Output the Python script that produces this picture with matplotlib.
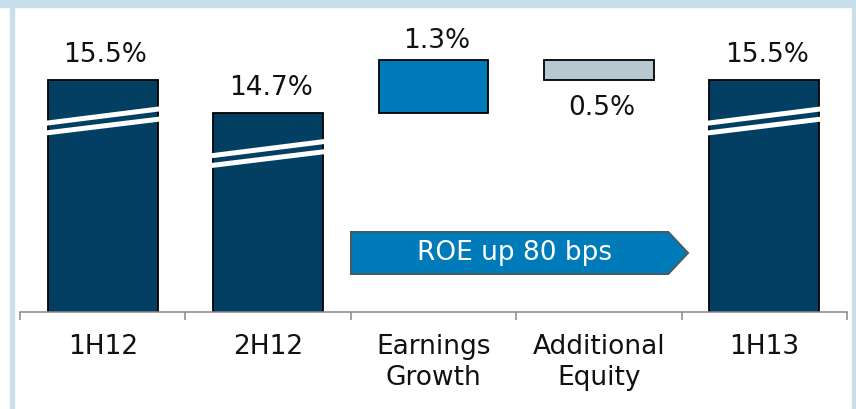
import matplotlib.pyplot as plt
from matplotlib.patches import Rectangle, Polygon

# data
categories = ['1H12', '2H12', 'Earnings\nGrowth', 'Additional\nEquity', '1H13']
roe_1h12 = 15.5
roe_2h12 = 14.7
earnings_growth = 1.3
additional_equity = -0.5
roe_1h13 = 15.5
value_labels = ['15.5%', '14.7%', '1.3%', '0.5%', '15.5%']
arrow_text = 'ROE up 80 bps'

navy = '#023f62'
blue = '#007bba'
grey = '#b8c8d0'
frame = '#c9dfeb'
fs = 19

fig = plt.figure(figsize=(8.56, 4.09), dpi=100)
ax = fig.add_axes([20 / 856, 97 / 409, 827 / 856, 293 / 409])

x = list(range(len(categories)))
w = 0.665

# totals (axis is broken, bars clipped at the bottom)
totals_x = [0, 1, 4]
totals = [roe_1h12, roe_2h12, roe_1h13]
ax.bar(totals_x, totals, width=w, color=navy, edgecolor='black', linewidth=1.3, zorder=2)

# floating bars
ax.bar(2, earnings_growth, bottom=roe_2h12, width=w, color=blue,
       edgecolor='black', linewidth=1.3, zorder=2)
ax.bar(3, additional_equity, bottom=roe_2h12 + earnings_growth, width=w, color=grey,
       edgecolor='black', linewidth=1.3, zorder=2)

# break marks on the total bars
for xi, v in zip(totals_x, totals):
    for dl, dr in [(1.06, 0.71), (1.30, 0.96)]:
        ax.plot([xi - w / 2 - 0.01, xi + w / 2 + 0.01], [v - dl, v - dr],
                color='white', linewidth=3.6, solid_capstyle='butt', zorder=3)

# value labels
ends = [roe_1h12, roe_2h12, roe_2h12 + earnings_growth,
        roe_2h12 + earnings_growth + additional_equity, roe_1h13]
offsets = [13, 13, 8.5, -25, 13]
for xi, top, lab, off in zip(x, ends, value_labels, offsets):
    ax.annotate(lab, (xi, top), xytext=(2, off), textcoords='offset points',
                ha='center', va='baseline', fontsize=fs, color='#111111')

# arrow
x0, x1, xt = 1.5, 3.42, 3.54
y0, y1 = 10.73, 11.77
ax.add_patch(Polygon([[x0, y0], [x1, y0], [xt, (y0 + y1) / 2], [x1, y1], [x0, y1]],
                     closed=True, facecolor=blue, edgecolor='#555555', linewidth=1.2, zorder=2))
ax.text(2.49, (y0 + y1) / 2, arrow_text, ha='center', va='center',
        color='white', fontsize=fs, zorder=3)

ax.set_xlim(-0.5, 4.5)
ax.set_ylim(9.8, 17.0)
ax.set_xticks(x)
ax.set_xticklabels(categories, fontsize=fs, linespacing=1.25, color='#111111')
ax.set_xticks([i - 0.5 for i in range(len(categories) + 1)], minor=True)
ax.tick_params(axis='x', which='major', length=0, pad=16)
ax.tick_params(axis='x', which='minor', length=6, width=1.1, color='#888888', direction='out')
ax.set_yticks([])
for s in ['top', 'left', 'right']:
    ax.spines[s].set_visible(False)
ax.spines['bottom'].set_color('#888888')
ax.spines['bottom'].set_linewidth(1.1)
ax.spines['bottom'].set_zorder(4)

# frame
fig.patches.append(Rectangle((0, 402 / 409), 1, 7 / 409, transform=fig.transFigure,
                             color=frame, zorder=0))
fig.patches.append(Rectangle((10 / 856, 0), 4 / 856, 1, transform=fig.transFigure,
                             color=frame, zorder=0))
fig.patches.append(Rectangle((852 / 856, 0), 4 / 856, 1, transform=fig.transFigure,
                             color=frame, zorder=0))

fig.savefig('out.png', dpi=100)
